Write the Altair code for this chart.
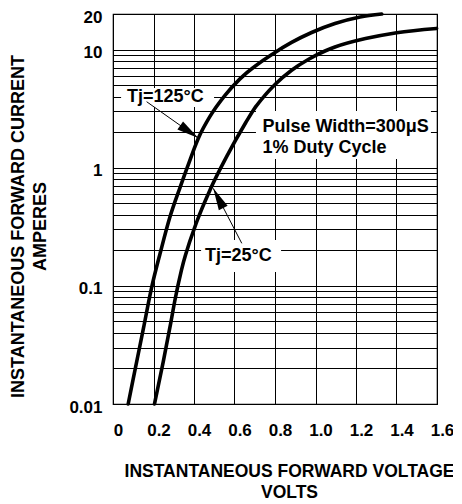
import altair as alt
import pandas as pd

# ---- data ----
v_125 = [0.075, 0.100, 0.150, 0.188, 0.237, 0.280, 0.330, 0.375, 0.421, 0.479, 0.553, 0.627, 0.800, 0.882, 0.981, 1.096, 1.220, 1.327]
i_125 = [0.010, 0.0164, 0.0434, 0.0922, 0.201, 0.377, 0.673, 1.10, 1.77, 2.72, 4.10, 5.65, 9.45, 11.5, 13.95, 16.6, 18.9, 20.0]

v_25 = [0.205, 0.248, 0.286, 0.306, 0.338, 0.415, 0.479, 0.561, 0.655, 0.693, 0.751, 0.800, 0.882, 0.964, 1.047, 1.096, 1.253, 1.401, 1.598]
i_25 = [0.010, 0.0227, 0.0494, 0.0759, 0.136, 0.354, 0.648, 1.24, 2.40, 3.07, 4.12, 5.07, 6.69, 8.25, 9.72, 10.5, 12.45, 13.9, 15.1]

x_ticks = [0, 0.2, 0.4, 0.6, 0.8, 1.0, 1.2, 1.4, 1.6]
y_grid = [0.01, 0.02, 0.03, 0.04, 0.05, 0.06, 0.07, 0.08, 0.09,
          0.1, 0.2, 0.3, 0.4, 0.5, 0.6, 0.7, 0.8, 0.9,
          1, 2, 3, 4, 5, 6, 7, 8, 9, 10, 20]
y_labels = [0.01, 0.1, 1, 10, 20]

# annotations (data coordinates)
note_text = ["Tj=125°C", "Pulse Width=300μS", "1% Duty Cycle", "Tj=25°C"]
note_x = [0.069, 0.738, 0.738, 0.454]
note_y = [3.97, 2.22, 1.46, 0.179]

box_x1 = [0.040, 0.706, 0.435]
box_x2 = [0.499, 1.570, 0.830]
box_y1 = [3.26, 1.185, 0.131]
box_y2 = [4.73, 3.02, 0.244]

arrow_x1 = [0.166, 0.636]
arrow_y1 = [3.62, 0.229]
arrow_x2 = [0.421, 0.495]
arrow_y2 = [1.78, 0.669]
arrow_angle = [35, 243]

FONT = "Liberation Sans"

curves = pd.DataFrame({
    "v": v_125 + v_25,
    "i": i_125 + i_25,
    "series": ["Tj=125°C"] * len(v_125) + ["Tj=25°C"] * len(v_25),
})
notes = pd.DataFrame({"v": note_x, "i": note_y, "label": note_text})
boxes = pd.DataFrame({"v": box_x1, "v2": box_x2, "i": box_y1, "i2": box_y2})
arrows = pd.DataFrame({"v": arrow_x1, "i": arrow_y1, "v2": arrow_x2, "i2": arrow_y2})
heads = pd.DataFrame({"v": arrow_x2, "i": arrow_y2, "angle": arrow_angle})

xscale = alt.Scale(domain=[0, 1.6], nice=False, zero=False)
yscale = alt.Scale(type="log", domain=[0.01, 20], nice=False)

x_axis = alt.Axis(
    values=x_ticks, grid=True, gridColor="black", gridWidth=1, gridOpacity=1,
    ticks=False, tickSize=0, domain=False, labelFlush=False, labelOverlap=False,
    labelExpr="datum.value == 0 ? '0' : format(datum.value, '.1f')",
    labelFont=FONT, labelFontSize=17, labelFontWeight="bold", labelColor="black",
    labelPadding=18, labelOffset=5,
    title=["INSTANTANEOUS FORWARD VOLTAGE", "VOLTS"],
    titleFont=FONT, titleFontSize=17.5, titleFontWeight="bold", titleColor="black",
    titleX=176, titleY=58, titleAlign="center", titleBaseline="top", titleLineHeight=21,
)
y_axis = alt.Axis(
    values=y_grid, grid=True, gridColor="black", gridWidth=1, gridOpacity=1,
    ticks=False, tickSize=0, domain=False, labelOverlap=False, labelFlush=False,
    format="~g",
    labelExpr="indexof([0.01, 0.1, 1, 10, 20], datum.value) >= 0 ? datum.label : ''",
    labelFont=FONT, labelFontSize=17, labelFontWeight="bold", labelColor="black",
    labelPadding=11, labelOffset=3,
    title=["INSTANTANEOUS FORWARD CURRENT", "AMPERES"],
    titleFont=FONT, titleFontSize=18, titleFontWeight="bold", titleColor="black",
    titleX=-86, titleY=212, titleAlign="center", titleBaseline="bottom",
    titleLineHeight=22, titleAngle=270,
)


def X(f="v"):
    return alt.X(f"{f}:Q", scale=xscale, axis=x_axis)


def Y(f="i"):
    return alt.Y(f"{f}:Q", scale=yscale, axis=y_axis)


rects = alt.Chart(boxes).mark_rect(color="white", opacity=1).encode(
    x=X(), x2="v2:Q", y=Y(), y2="i2:Q"
)

lines = alt.Chart(curves).mark_line(
    color="black", strokeWidth=3.6, interpolate="monotone", strokeCap="round"
).encode(x=X(), y=Y(), detail="series:N")

shafts = alt.Chart(arrows).mark_rule(color="black", strokeWidth=1).encode(
    x=X(), x2="v2:Q", y=Y(), y2="i2:Q"
)

head_marks = alt.Chart(heads).mark_point(
    shape="M0,0L-2,-0.45L-2,0.45Z", filled=True, size=484, color="black",
    opacity=1, strokeWidth=0
).encode(x=X(), y=Y(), angle=alt.Angle("angle:Q", scale=None))

texts = alt.Chart(notes).mark_text(
    align="left", baseline="middle", font=FONT, fontSize=18, fontWeight="bold",
    color="black"
).encode(x=X(), y=Y(), text="label:N")

chart = alt.layer(rects, texts, lines, shafts, head_marks).properties(
    width=324, height=390,
    autosize=alt.AutoSizeParams(type="none"),
    padding={"left": 105, "top": 6, "right": 16, "bottom": 100},
    background="white",
).configure_view(stroke="black", strokeWidth=1.2)

chart.save("out.html", embed_options={"renderer": "svg", "actions": False})
